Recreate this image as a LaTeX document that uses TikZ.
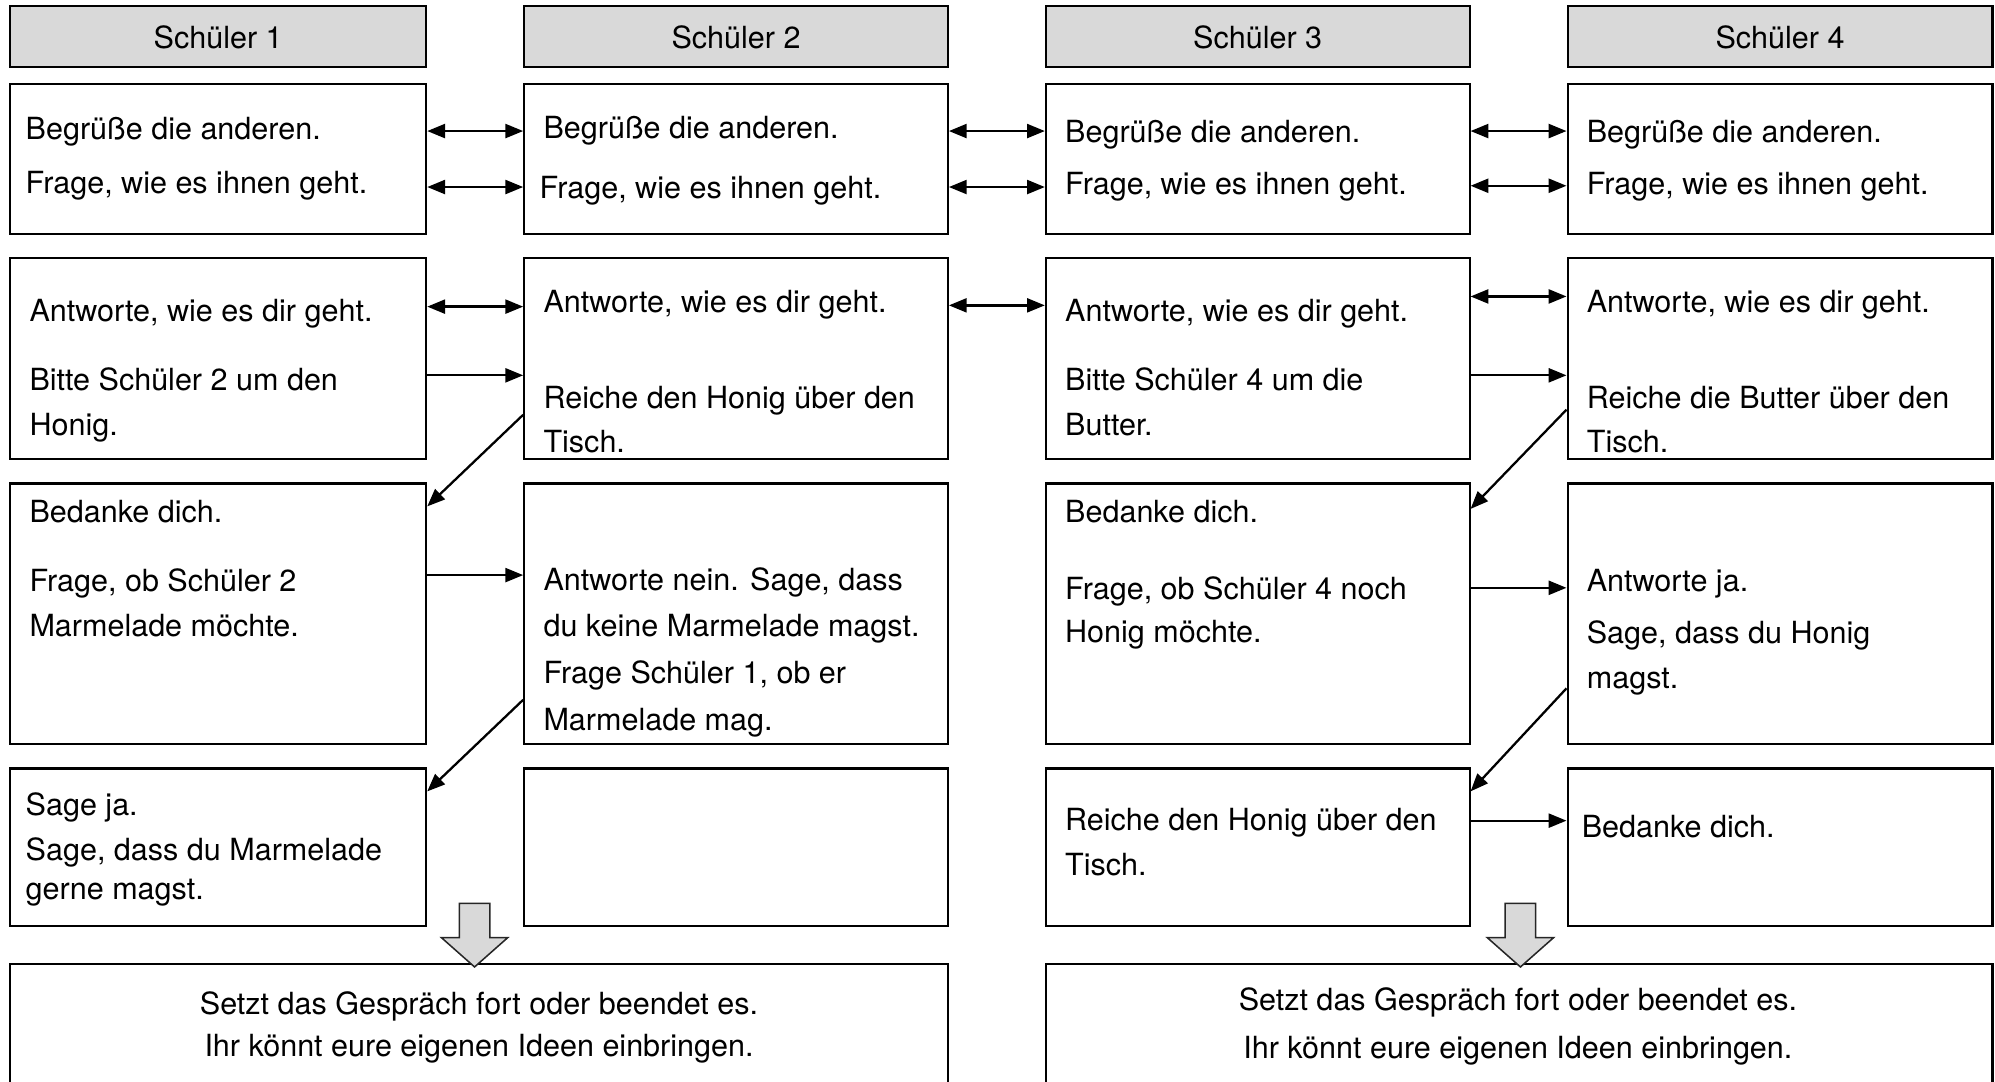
\documentclass[tikz,border=0pt]{standalone}
\usepackage{fontspec}
\setmainfont{TeX Gyre Heros}
\usetikzlibrary{arrows.meta,positioning}

\begin{document}
\begin{tikzpicture}[x=1pt, y=-1pt,
    box/.style={draw, line width=1.6pt, inner sep=0pt},
    head/.style={box, fill=black!15, minimum height=48pt, font=\fontsize{24}{29}\selectfont},
    c1/.style={minimum width=327pt},
    c2/.style={minimum width=333pt},
    c3/.style={minimum width=333pt},
    c4/.style={minimum width=334pt},
    txt/.style={anchor=base west, inner sep=0pt, font=\fontsize{24}{35}\selectfont},
    ctr/.style={anchor=base, inner sep=0pt, font=\fontsize{24}{35}\selectfont},
    arr/.style={-{Triangle[length=14pt,width=11pt]}, line width=1.8pt},
    dbl/.style={{Triangle[length=14pt,width=11pt]}-{Triangle[length=14pt,width=11pt]}, line width=1.8pt},
    bigarr/.style={fill=black!15, draw=black!85, line width=1.2pt},
]
\useasboundingbox (0,0) rectangle (1568,850);

% Kopfzeile
\node[head, c1] (h1) at (171.5,29) {Schüler 1};
\node[head, c2] (h2) at (578.5,29) {Schüler 2};
\node[head, c3] (h3) at (988.5,29) {Schüler 3};
\node[head, c4] (h4) at (1399,29) {Schüler 4};

% Kästen
\node[box, c1, minimum height=118pt] (s1a) at (171.5,125) {};
\node[box, c2, minimum height=118pt] (s2a) at (578.5,125) {};
\node[box, c3, minimum height=118pt] (s3a) at (988.5,125) {};
\node[box, c4, minimum height=118pt] (s4a) at (1399,125) {};

\node[box, c1, minimum height=158pt] (s1b) at (171.5,282) {};
\node[box, c2, minimum height=158pt] (s2b) at (578.5,282) {};
\node[box, c3, minimum height=158pt] (s3b) at (988.5,282) {};
\node[box, c4, minimum height=158pt] (s4b) at (1399,282) {};

\node[box, c1, minimum height=205pt] (s1c) at (171.5,482.5) {};
\node[box, c2, minimum height=205pt] (s2c) at (578.5,482.5) {};
\node[box, c3, minimum height=205pt] (s3c) at (988.5,482.5) {};
\node[box, c4, minimum height=205pt] (s4c) at (1399,482.5) {};

\node[box, c1, minimum height=124pt] (s1d) at (171.5,666) {};
\node[box, c2, minimum height=124pt] (s2d) at (578.5,666) {};
\node[box, c3, minimum height=124pt] (s3d) at (988.5,666) {};
\node[box, c4, minimum height=124pt] (s4d) at (1399,666) {};

\node[box, minimum width=737pt, minimum height=130pt] (endl) at (376.5,823) {};
\node[box, minimum width=744pt, minimum height=130pt] (endr) at (1194,823) {};

% Texte
\node[txt] (t1a1) at (20,110) {Begrüße die anderen.};
\node[txt] (t1a2) at (20,152) {Frage, wie es ihnen geht.};
\node[txt] (t2a1) at (427,109) {Begrüße die anderen.};
\node[txt] (t2a2) at (424,156) {Frage, wie es ihnen geht.};
\node[txt] (t3a1) at (837,112) {Begrüße die anderen.};
\node[txt] (t3a2) at (837,153) {Frage, wie es ihnen geht.};
\node[txt] (t4a1) at (1247,112) {Begrüße die anderen.};
\node[txt] (t4a2) at (1247,153) {Frage, wie es ihnen geht.};

\node[txt] (t1b1) at (23,253) {Antworte, wie es dir geht.};
\node[txt] (t1b2) at (23,307) {Bitte Schüler 2 um den};
\node[txt] (t1b3) at (23,342) {Honig.};
\node[txt] (t2b1) at (427,246) {Antworte, wie es dir geht.};
\node[txt] (t2b2) at (427,321) {Reiche den Honig über den};
\node[txt] (t2b3) at (427,356) {Tisch.};
\node[txt] (t3b1) at (837,253) {Antworte, wie es dir geht.};
\node[txt] (t3b2) at (837,307) {Bitte Schüler 4 um die};
\node[txt] (t3b3) at (837,342) {Butter.};
\node[txt] (t4b1) at (1247,246) {Antworte, wie es dir geht.};
\node[txt] (t4b2) at (1247,321) {Reiche die Butter über den};
\node[txt] (t4b3) at (1247,356) {Tisch.};

\node[txt] (t1c1) at (23,411) {Bedanke dich.};
\node[txt] (t1c2) at (23,465) {Frage, ob Schüler 2};
\node[txt] (t1c3) at (23,500) {Marmelade möchte.};
\node[txt] (t2c1) at (427,464) {Antworte nein. Sage, dass};
\node[txt] (t2c2) at (427,500) {du keine Marmelade magst.};
\node[txt] (t2c3) at (427,537) {Frage Schüler 1, ob er};
\node[txt] (t2c4) at (427,574) {Marmelade mag.};
\node[txt] (t3c1) at (837,411) {Bedanke dich.};
\node[txt] (t3c2) at (837,471) {Frage, ob Schüler 4 noch};
\node[txt] (t3c3) at (837,505) {Honig möchte.};
\node[txt] (t4c1) at (1247,465) {Antworte ja.};
\node[txt] (t4c2) at (1247,506) {Sage, dass du Honig};
\node[txt] (t4c3) at (1247,541) {magst.};

\node[txt] (t1d1) at (20,641) {Sage ja.};
\node[txt] (t1d2) at (20,676) {Sage, dass du Marmelade};
\node[txt] (t1d3) at (20,707) {gerne magst.};
\node[txt] (t3d1) at (837,653) {Reiche den Honig über den};
\node[txt] (t3d2) at (837,688) {Tisch.};
\node[txt] (t4d1) at (1243,658) {Bedanke dich.};

\node[ctr] (el1) at (376.5,797) {Setzt das Gespräch fort oder beendet es.};
\node[ctr] (el2) at (376.5,830) {Ihr könnt eure eigenen Ideen einbringen.};
\node[ctr] (er1) at (1193,794) {Setzt das Gespräch fort oder beendet es.};
\node[ctr] (er2) at (1193,832) {Ihr könnt eure eigenen Ideen einbringen.};

% Pfeile
\draw[dbl] (s1a.east |- 0,103) -- (s2a.west |- 0,103);
\draw[dbl] (s1a.east |- 0,147) -- (s2a.west |- 0,147);
\draw[dbl] (s2a.east |- 0,103) -- (s3a.west |- 0,103);
\draw[dbl] (s2a.east |- 0,147) -- (s3a.west |- 0,147);
\draw[dbl] (s3a.east |- 0,103) -- (s4a.west |- 0,103);
\draw[dbl] (s3a.east |- 0,146) -- (s4a.west |- 0,146);

\draw[dbl] (s1b.east |- 0,241) -- (s2b.west |- 0,241);
\draw[arr] (s1b.east |- 0,295) -- (s2b.west |- 0,295);
\draw[dbl] (s2b.east |- 0,240) -- (s3b.west |- 0,240);
\draw[dbl] (s3b.east |- 0,233) -- (s4b.west |- 0,233);
\draw[arr] (s3b.east |- 0,295) -- (s4b.west |- 0,295);

\draw[arr] (s2b.west |- 0,326) -- (s1c.east |- 0,398);
\draw[arr] (s4b.west |- 0,322) -- (s3c.east |- 0,400);

\draw[arr] (s1c.east |- 0,452) -- (s2c.west |- 0,452);
\draw[arr] (s3c.east |- 0,462) -- (s4c.west |- 0,462);

\draw[arr] (s2c.west |- 0,550) -- (s1d.east |- 0,622);
\draw[arr] (s4c.west |- 0,541) -- (s3d.east |- 0,622);

\draw[arr] (s3d.east |- 0,645) -- (s4d.west |- 0,645);

\foreach \cx in {373,1195}
  \filldraw[bigarr] (\cx-12,710) -- (\cx+12,710) -- (\cx+12,737) -- (\cx+26,737)
    -- (\cx,760) -- (\cx-26,737) -- (\cx-12,737) -- cycle;
\end{tikzpicture}
\end{document}
